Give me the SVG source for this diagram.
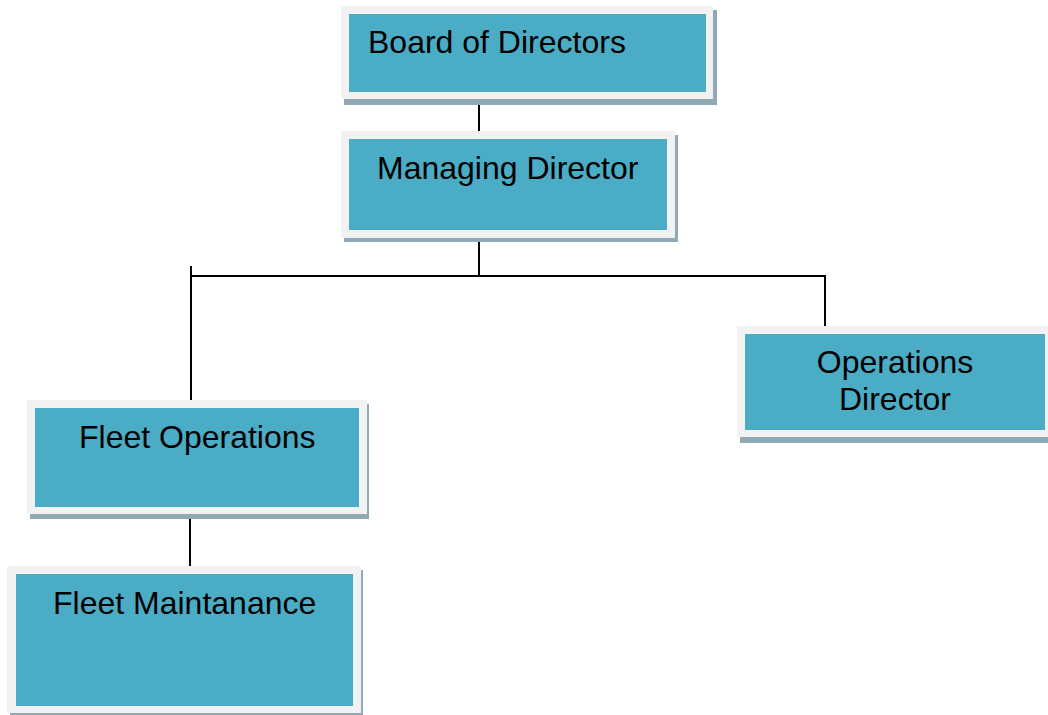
<svg xmlns="http://www.w3.org/2000/svg" width="1048" height="715" viewBox="0 0 1048 715">
  <style>
    .shadow { fill: #8faab4; }
    .frame { fill: #f2f2f2; }
    .body { fill: #4bacc6; }
    .label { font-family: "Liberation Sans", Arial, sans-serif; font-size: 32px; fill: #000000; }
    .wire { stroke: #000000; stroke-width: 2; fill: none; }
  </style>
  <rect width="1048" height="715" fill="#ffffff"/>

  <!-- connectors -->
  <g id="connectors">
    <line class="wire" x1="479" y1="97" x2="479" y2="131"/>
    <line class="wire" x1="479" y1="238" x2="479" y2="276"/>
    <line class="wire" x1="191" y1="276" x2="826" y2="276"/>
    <line class="wire" x1="191" y1="266" x2="191" y2="400"/>
    <line class="wire" x1="825" y1="275" x2="825" y2="326"/>
    <line class="wire" x1="190" y1="515" x2="190" y2="566"/>
  </g>

  <g id="board-of-directors">
    <rect class="shadow" x="344" y="10" width="373" height="95"/>
    <rect class="frame" x="341" y="6" width="372" height="93"/>
    <rect class="body" x="349" y="14" width="357" height="78"/>
    <text class="label" x="368" y="53">Board of Directors</text>
  </g>

  <g id="managing-director">
    <rect class="shadow" x="344" y="135" width="334" height="107"/>
    <rect class="frame" x="341" y="131" width="334" height="107"/>
    <rect class="body" x="349" y="139" width="318" height="91"/>
    <text class="label" x="377" y="179">Managing Director</text>
  </g>

  <g id="fleet-operations">
    <rect class="shadow" x="30" y="404" width="339" height="115"/>
    <rect class="frame" x="27" y="400" width="340" height="114"/>
    <rect class="body" x="35" y="408" width="324" height="99"/>
    <text class="label" x="79" y="448">Fleet Operations</text>
  </g>

  <g id="fleet-maintanance">
    <rect class="shadow" x="10" y="570" width="353" height="150"/>
    <rect class="frame" x="7" y="566" width="354" height="147"/>
    <rect class="body" x="16" y="574" width="337" height="132"/>
    <text class="label" x="53" y="614">Fleet Maintanance</text>
  </g>

  <g id="operations-director">
    <rect class="shadow" x="740" y="330" width="312" height="113"/>
    <rect class="frame" x="737" y="326" width="315" height="111"/>
    <rect class="body" x="745" y="334" width="300" height="96"/>
    <text class="label" x="895" y="373" text-anchor="middle">Operations</text>
    <text class="label" x="895" y="410" text-anchor="middle">Director</text>
  </g>
</svg>
